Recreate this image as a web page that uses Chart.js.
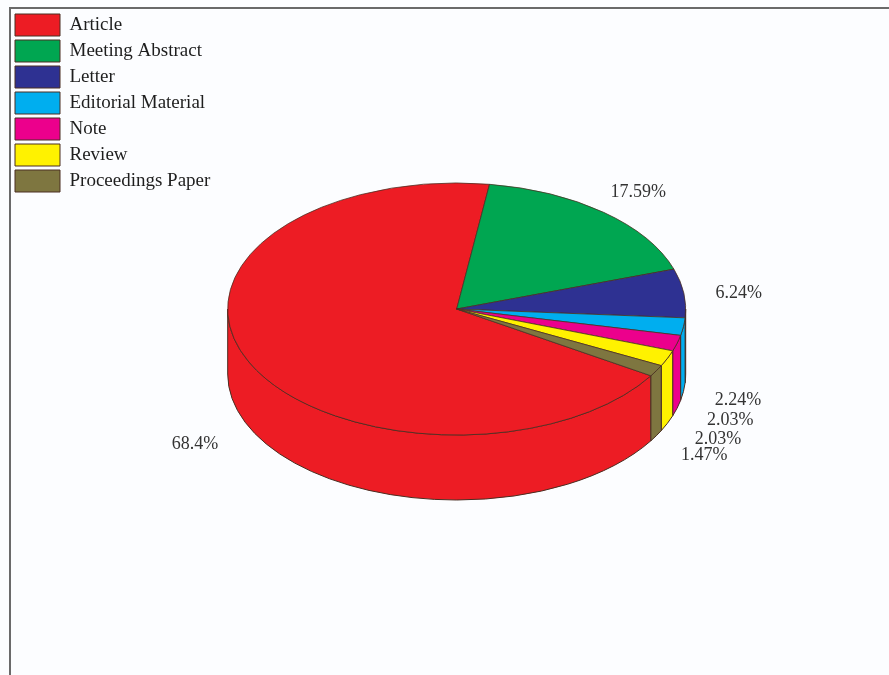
<!DOCTYPE html>
<html>
<head>
<meta charset="utf-8">
<title>Document types</title>
<script src="https://cdn.jsdelivr.net/npm/chart.js@4.4.1/dist/chart.umd.min.js"></script>
<style>
    html, body { margin: 0; padding: 0; background: #fcfdff; }
    #wrap { position: relative; width: 889px; height: 675px; }
</style>
</head>
<body>
<div id="wrap"><canvas id="pieChart"></canvas></div>
<script>
// Document types and their share (%)
const categories = ['Article', 'Meeting Abstract', 'Letter', 'Editorial Material', 'Note', 'Review', 'Proceedings Paper'];
const shares = [68.4, 17.59, 6.24, 2.24, 2.03, 2.03, 1.47];
const sliceColors = ['#ed1c24', '#00a651', '#2e3192', '#00aeef', '#ec008c', '#fff200', '#7e7640'];

const TILT = 126 / 229;   // vertical squash of the top face
const DEPTH = 65;         // height of the pie's side wall
const EDGE = '#4a2e22';

// background + frame lines
const framePlugin = {
    id: 'frame',
    beforeDraw(chart) {
        const ctx = chart.ctx;
        ctx.save();
        ctx.fillStyle = '#fcfdff';
        ctx.fillRect(0, 0, chart.width, chart.height);
        ctx.strokeStyle = '#6a6a6a';
        ctx.lineWidth = 2;
        ctx.beginPath();
        ctx.moveTo(chart.width, 8);
        ctx.lineTo(10, 8);
        ctx.lineTo(10, chart.height);
        ctx.stroke();
        ctx.restore();
    }
};

// Fake 3D: draw the side wall under each slice, then squash the slices
const tiltPlugin = {
    id: 'tilt',
    beforeDatasetsDraw(chart) {
        const ctx = chart.ctx;
        const arcs = chart.getDatasetMeta(0).data;
        const { x: cx, y: cy, outerRadius: rx } = arcs[0];
        const ry = rx * TILT;

        ctx.save();
        ctx.lineWidth = 1;
        ctx.strokeStyle = EDGE;
        arcs.forEach((arc, i) => {
            // only the front half (0..PI) of the wall is visible
            for (let n = -1; n <= 2; n++) {
                const a = Math.max(arc.startAngle, 2 * Math.PI * n);
                const b = Math.min(arc.endAngle, 2 * Math.PI * n + Math.PI);
                if (a >= b) continue;
                ctx.beginPath();
                ctx.ellipse(cx, cy, rx, ry, 0, a, b);
                ctx.ellipse(cx, cy + DEPTH, rx, ry, 0, b, a, true);
                ctx.closePath();
                ctx.fillStyle = sliceColors[i];
                ctx.fill();
                ctx.stroke();
            }
        });
        ctx.restore();

        // left on the stack until afterDatasetsDraw
        ctx.save();
        ctx.translate(cx, cy);
        ctx.scale(1, TILT);
        ctx.translate(-cx, -cy);
    },
    afterDatasetsDraw(chart) {
        const ctx = chart.ctx;
        ctx.restore();

        const arcs = chart.getDatasetMeta(0).data;
        const { x: cx, y: cy, outerRadius: rx } = arcs[0];
        const ry = rx * TILT;

        ctx.save();
        ctx.font = '18px "Liberation Serif"';
        ctx.fillStyle = '#333';
        ctx.textAlign = 'center';
        ctx.textBaseline = 'middle';
        arcs.forEach((arc, i) => {
            const mid = (arc.startAngle + arc.endAngle) / 2;
            const s = Math.sin(mid);
            const lx = cx + rx * 1.25 * Math.cos(mid) - 2;
            const ly = cy + ry * 1.25 * s + (s > 0 ? DEPTH : 0) + 4;
            ctx.fillText(shares[i] + '%', lx, ly);
        });
        ctx.restore();
    }
};

Chart.defaults.font.family = '"Liberation Serif", serif';

const pieChart = new Chart(document.getElementById('pieChart'), {
    type: 'pie',
    data: {
        labels: categories,
        datasets: [{
            data: shares,
            backgroundColor: sliceColors,
            borderColor: EDGE,
            borderWidth: 1,
            clip: false
        }]
    },
    options: {
        responsive: true,
        maintainAspectRatio: false,
        animation: false,
        radius: 229,
        rotation: 122,
        layout: { padding: { left: 11, top: 10, right: 196, bottom: 67 } },
        plugins: {
            legend: {
                position: 'left',
                align: 'start',
                labels: {
                    boxWidth: 45,
                    boxHeight: 22,
                    padding: 4,
                    color: '#1e1e1e',
                    font: { size: 19 }
                }
            },
            tooltip: { enabled: false }
        }
    },
    plugins: [framePlugin, tiltPlugin]
});
</script>
</body>
</html>
